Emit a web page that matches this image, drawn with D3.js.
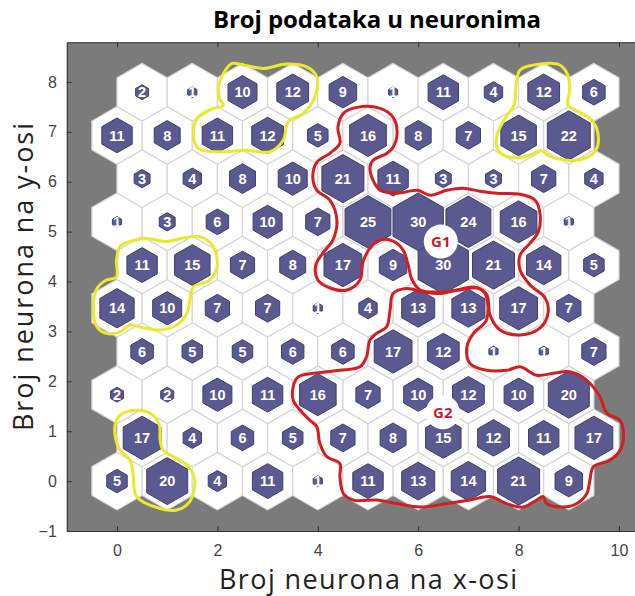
<!DOCTYPE html>
<html><head><meta charset="utf-8">
<script src="https://cdn.jsdelivr.net/npm/d3@7/dist/d3.min.js"></script>
<style>body{margin:0;background:#fff}svg{display:block}</style>
</head><body><svg id="c" width="635" height="596"></svg>
<script>
// SOM hits per neuron, row 0 (bottom) to row 9 (top), columns 0..9
const hitsByRow = [
  [5,20,4,11,1,11,13,14,21,9],
  [17,4,6,5,7,8,15,12,11,17],
  [2,2,10,11,16,7,10,12,10,20],
  [6,5,5,6,6,17,12,1,1,7],
  [14,10,7,7,1,4,13,13,17,7],
  [11,15,7,8,17,9,30,21,14,5],
  [1,3,6,10,7,25,30,24,16,1],
  [3,4,8,10,21,11,3,3,7,4],
  [11,8,11,12,5,16,8,7,15,22],
  [2,1,10,12,9,1,11,4,12,6]
];
const xTicks = [0,2,4,6,8,10];
const yTicks = [-1,0,1,2,3,4,5,6,7,8];
const titleText = "Broj podataka u neuronima";
const xLabel = "Broj neurona na x-osi";
const yLabel = "Broj neurona na y-osi";
const groupLabels = ["G1","G2"];
const groupLabelX = [6.45, 6.49];
const groupLabelY = [4.80, 1.38];
// hand-drawn annotation loops (data units)
const yellowLoop1 = [[2.29,8.37],[2.12,8.17],[2.02,7.90],[2.05,7.64],[2.12,7.54],[1.85,7.44],[1.62,7.30],[1.52,6.97],[1.62,6.67],[2.05,6.60],[2.58,6.63],[3.05,6.60],[3.31,6.83],[3.41,7.20],[3.71,7.37],[3.94,7.70],[3.98,8.10],[3.78,8.30],[3.38,8.36],[2.91,8.27],[2.51,8.34]];
const yellowLoop2 = [[8.03,8.24],[8.43,8.36],[8.82,8.34],[8.98,8.14],[9.02,7.84],[8.98,7.54],[9.22,7.39],[9.46,7.23],[9.58,6.97],[9.54,6.63],[9.32,6.47],[8.96,6.43],[8.59,6.53],[8.43,6.63],[8.23,6.53],[7.83,6.49],[7.59,6.63],[7.57,6.93],[7.73,7.27],[7.91,7.54],[7.95,7.94]];
const yellowLoop3 = [[0.13,4.76],[0.59,4.86],[0.99,4.80],[1.26,4.86],[1.65,4.90],[1.92,4.70],[1.99,4.29],[1.85,4.03],[1.52,3.89],[1.45,3.63],[1.39,3.36],[1.19,3.13],[0.86,3.03],[0.46,3.09],[0.26,3.13],[0.06,2.99],[-0.21,2.96],[-0.40,3.09],[-0.47,3.49],[-0.40,3.86],[-0.21,4.03],[-0.01,4.09],[-0.01,4.43],[0.06,4.70]];
const yellowLoop4 = [[0.36,1.42],[0.66,1.36],[0.84,1.14],[0.86,0.82],[0.92,0.62],[1.19,0.45],[1.42,0.29],[1.55,0.02],[1.45,-0.41],[1.19,-0.58],[0.86,-0.55],[0.39,-0.31],[0.32,0.15],[0.26,0.42],[0.06,0.62],[-0.02,0.82],[-0.04,1.12],[0.06,1.32]];
const redLoopG1 = [[4.51,7.37],[4.40,7.09],[4.44,6.77],[4.24,6.57],[3.98,6.39],[3.90,6.09],[3.98,5.83],[4.24,5.63],[4.38,5.23],[4.30,4.83],[4.10,4.57],[3.96,4.33],[4.00,4.03],[4.24,3.87],[4.58,3.83],[4.84,4.03],[4.90,4.39],[5.04,4.67],[5.24,4.83],[5.50,4.81],[5.70,4.63],[5.80,4.33],[5.88,4.03],[6.04,3.83],[6.43,3.79],[6.83,3.83],[7.19,3.87],[7.37,3.73],[7.43,3.33],[7.63,3.03],[8.03,2.93],[8.43,3.07],[8.59,3.39],[8.53,3.67],[8.23,3.93],[8.03,4.23],[8.03,4.53],[8.23,4.77],[8.39,4.99],[8.43,5.33],[8.33,5.63],[8.03,5.75],[7.57,5.77],[7.23,5.81],[6.89,5.87],[6.57,5.83],[6.24,5.73],[5.98,5.83],[5.58,5.77],[5.24,5.83],[5.10,6.03],[5.04,6.29],[5.10,6.43],[5.38,6.57],[5.50,6.69],[5.58,6.97],[5.50,7.29],[5.24,7.47],[4.78,7.49]];
const redLoopG2 = [[5.50,3.76],[5.77,3.86],[6.10,3.79],[6.43,3.76],[6.77,3.83],[7.10,3.89],[7.33,3.76],[7.36,3.23],[7.10,2.96],[6.97,2.69],[7.03,2.36],[7.36,2.22],[7.76,2.22],[8.03,2.29],[8.36,2.12],[8.69,2.16],[9.02,2.19],[9.36,2.02],[9.62,1.69],[9.76,1.36],[10.02,1.22],[10.09,0.89],[10.02,0.62],[9.82,0.42],[9.49,0.29],[9.42,0.02],[9.36,-0.25],[9.16,-0.45],[8.89,-0.52],[8.56,-0.45],[8.49,-0.31],[8.36,-0.38],[8.09,-0.52],[7.76,-0.45],[7.43,-0.31],[7.03,-0.38],[6.57,-0.45],[6.04,-0.52],[5.57,-0.45],[5.17,-0.38],[4.71,-0.38],[4.51,-0.25],[4.44,0.09],[4.44,0.35],[4.18,0.49],[4.04,0.76],[3.98,1.09],[3.84,1.22],[3.65,1.42],[3.51,1.62],[3.51,1.89],[3.61,2.09],[3.91,2.16],[4.44,2.22],[4.84,2.29],[4.97,2.49],[5.04,2.83],[5.17,2.96],[5.37,3.09],[5.44,3.43]];

const svg = d3.select("#c");
const rowH = Math.sqrt(3)/2;
const yMax = 9*rowH + 1;
const x = d3.scaleLinear().domain([-1, 10.5]).range([66.8, 644.1]);
const y = d3.scaleLinear().domain([-1, yMax]).range([531, 42.3]);

// plot background
svg.append("rect").attr("x", x(-1)).attr("y", y(yMax))
  .attr("width", x(10.5)-x(-1)).attr("height", y(-1)-y(yMax)).attr("fill", "#7b7b7b");

const maxHits = d3.max(hitsByRow.flat());
const cells = [];
hitsByRow.forEach((row, j) => row.forEach((h, i) => cells.push({cx: i + (j % 2) * 0.5, cy: j * rowH, h})));

const r0 = 1/Math.sqrt(3);
function hexPath(cx, cy, s) {
  const pts = d3.range(6).map(k => {
    const a = Math.PI/2 + k*Math.PI/3;
    return [x(cx + s*r0*Math.cos(a)), y(cy + s*r0*Math.sin(a))];
  });
  return "M" + pts.map(p => p.join(",")).join("L") + "Z";
}

const g = svg.append("g");
g.selectAll("path.cell").data(cells).join("path").attr("class","cell")
  .attr("d", d => hexPath(d.cx, d.cy, 1))
  .attr("fill", "#ffffff").attr("stroke", "#d6d6d6").attr("stroke-width", 1.2);
g.selectAll("path.hit").data(cells).join("path").attr("class","hit")
  .attr("d", d => hexPath(d.cx, d.cy, Math.sqrt(d.h/maxHits)))
  .attr("fill", "#5a5a90").attr("stroke", "#3f3f6c").attr("stroke-width", 1);
g.selectAll("text.hit").data(cells).join("text").attr("class","hit")
  .attr("x", d => x(d.cx)).attr("y", d => y(d.cy)).attr("dy", "0.36em")
  .attr("text-anchor", "middle")
  .attr("font-family", "Liberation Sans, Arial, sans-serif").attr("font-weight", "bold")
  .attr("font-size", 14.5).attr("fill", "#ffffff").text(d => d.h);

// annotation loops
const loopLine = d3.line().x(d => x(d[0])).y(d => y(d[1])).curve(d3.curveCatmullRomClosed.alpha(0.5));
[yellowLoop1, yellowLoop2, yellowLoop3, yellowLoop4].forEach(l =>
  svg.append("path").attr("d", loopLine(l)).attr("fill", "none")
    .attr("stroke", "#eaea2a").attr("stroke-width", 3).attr("stroke-linejoin", "round"));
[redLoopG1, redLoopG2].forEach(l =>
  svg.append("path").attr("d", loopLine(l)).attr("fill", "none")
    .attr("stroke", "#d41e22").attr("stroke-width", 3).attr("stroke-linejoin", "round"));

groupLabels.forEach((lab, k) => {
  svg.append("circle").attr("cx", x(groupLabelX[k])).attr("cy", y(groupLabelY[k])).attr("r", 17).attr("fill", "#ffffff");
  svg.append("text").attr("x", x(groupLabelX[k])).attr("y", y(groupLabelY[k])).attr("dy", "0.36em")
    .attr("text-anchor", "middle").attr("font-family", "Open Sans, sans-serif").attr("font-weight", "bold")
    .attr("font-size", 15).attr("fill", "#c8202a").text(lab);
});

// axes
const axStyle = sel => {
  sel.selectAll("path.domain").attr("stroke", "#333");
  sel.selectAll(".tick line").attr("stroke", "#333");
  sel.selectAll(".tick text").attr("fill", "#444").attr("font-size", 16).attr("font-family", "Liberation Sans, Arial, sans-serif");
};
svg.append("g").attr("transform", `translate(0,${y(-1)})`)
  .call(d3.axisBottom(x).tickValues(xTicks).tickSizeInner(-5).tickSizeOuter(0).tickPadding(14)).call(axStyle);
svg.append("g").attr("transform", `translate(0,${y(yMax)})`)
  .call(d3.axisTop(x).tickValues(xTicks).tickSizeInner(-5).tickSizeOuter(0).tickFormat("")).call(axStyle);
svg.append("g").attr("transform", `translate(${x(-1)},0)`)
  .call(d3.axisLeft(y).tickValues(yTicks).tickSizeInner(-5).tickSizeOuter(0).tickPadding(10)).call(axStyle);

// titles
svg.append("text").attr("x", 377).attr("y", 28).attr("text-anchor", "middle")
  .attr("font-family", "Open Sans, sans-serif").attr("font-weight", "bold").attr("font-size", 24)
  .attr("fill", "#000").attr("textLength", 328).text(titleText);
svg.append("text").attr("x", 368).attr("y", 589).attr("text-anchor", "middle")
  .attr("font-family", "Open Sans, sans-serif").attr("font-size", 27)
  .attr("fill", "#222").attr("textLength", 298).text(xLabel);
svg.append("text").attr("transform", "translate(33,277) rotate(-90)").attr("text-anchor", "middle")
  .attr("font-family", "Open Sans, sans-serif").attr("font-size", 27)
  .attr("fill", "#222").attr("textLength", 308).text(yLabel);
</script>
</body></html>
